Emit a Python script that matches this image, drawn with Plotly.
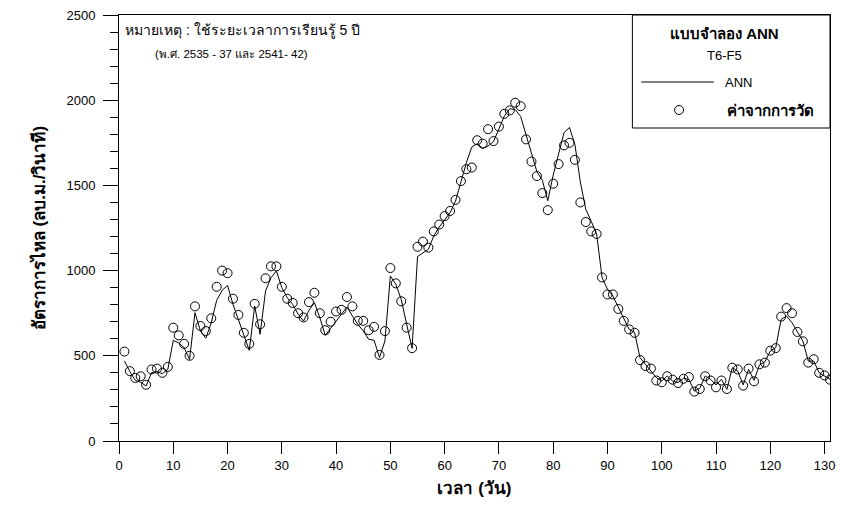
import plotly.graph_objects as go

# Daily discharge: measured values and ANN model output (T6-F5)
days = list(range(1, 132))

measured = [
    525, 410, 370, 380, 330, 420, 425, 400, 435, 665,
    620, 570, 500, 790, 675, 645, 720, 905, 1000, 985,
    835, 740, 635, 570, 805, 685, 955, 1025, 1025, 905,
    835, 810, 750, 725, 815, 870, 750, 650, 700, 760,
    770, 845, 790, 705, 705, 650, 670, 505, 645, 1015,
    925, 820, 665, 545, 1140, 1170, 1135, 1230, 1270, 1320,
    1350, 1415, 1525, 1595, 1605, 1765, 1745, 1830, 1760, 1845,
    1920, 1940, 1985, 1965, 1770, 1640, 1555, 1455, 1355, 1510,
    1625, 1735, 1750, 1650, 1400, 1285, 1230, 1215, 960, 860,
    860, 775, 705, 655, 635, 475, 440, 425, 355, 345,
    380, 360, 340, 365, 375, 290, 305, 380, 355, 315,
    355, 305, 430, 420, 325, 425, 350, 450, 460, 530,
    545, 730, 780, 750, 640, 585, 460, 480, 400, 385,
    360,
]

ann = [
    470, 407, 356, 344, 323, 401, 407, 395, 421, 591,
    575, 548, 479, 753, 646, 603, 694, 826, 884, 913,
    802, 714, 626, 532, 792, 626, 880, 958, 998, 900,
    841, 802, 744, 704, 767, 812, 724, 620, 661, 704,
    744, 786, 734, 685, 646, 597, 591, 489, 587, 968,
    920, 831, 685, 544, 1082, 1101, 1125, 1203, 1256, 1297,
    1340, 1408, 1516, 1633, 1725, 1745, 1718, 1731, 1757, 1829,
    1907, 1950, 1945, 1905, 1800, 1690, 1580, 1530, 1410, 1560,
    1690, 1810, 1840, 1740, 1520, 1360, 1290, 1215, 960, 890,
    850, 782, 714, 655, 636, 489, 450, 411, 372, 352,
    381, 352, 342, 368, 362, 293, 309, 381, 362, 329,
    362, 303, 430, 411, 329, 421, 356, 446, 465, 528,
    548, 714, 733, 694, 636, 587, 469, 469, 401, 381,
    362,
]

x_ticks = list(range(0, 131, 10))
y_ticks = [0, 500, 1000, 1500, 2000, 2500]

W, H = 841, 508
L, R, T, B = 119, 835, 15, 441
FONT = "Arial, Liberation Sans, Noto Sans, sans-serif"


def px(xp):
    return (xp - L) / (R - L)


def py(yp):
    return (B - yp) / (B - T)


fig = go.Figure()

fig.add_trace(go.Scatter(
    x=days, y=ann, mode="lines", name="ANN",
    line=dict(color="black", width=1),
    showlegend=False,
))
fig.add_trace(go.Scatter(
    x=days, y=measured, mode="markers", name="ค่าจากการวัด",
    marker=dict(symbol="circle-open", size=9, color="black",
                line=dict(color="black", width=1)),
    showlegend=False,
))

shapes = [
    # legend box
    dict(type="rect", xref="paper", yref="paper",
         x0=px(636), x1=1, y0=py(128), y1=1,
         line=dict(color="black", width=1), fillcolor="white", layer="above"),
    # legend line sample
    dict(type="line", xref="paper", yref="paper",
         x0=px(645), x1=px(718), y0=py(82), y1=py(82),
         line=dict(color="black", width=1), layer="above"),
    # legend marker sample
    dict(type="circle", xref="paper", yref="paper",
         xsizemode="pixel", ysizemode="pixel",
         xanchor=px(683), yanchor=py(110),
         x0=-4.5, x1=4.5, y0=-4.5, y1=4.5,
         line=dict(color="black", width=1), layer="above"),
]

annotations = [
    dict(text="<b>แบบจำลอง ANN</b>", x=px(729), y=py(33),
         font=dict(size=15)),
    dict(text="T6-F5", x=px(729), y=py(56), font=dict(size=13)),
    dict(text="ANN", x=px(727), y=py(82), xanchor="left", font=dict(size=13)),
    dict(text="<b>ค่าจากการวัด</b>", x=px(729), y=py(110), xanchor="left",
         font=dict(size=15)),
    dict(text="หมายเหตุ : ใช้ระยะเวลาการเรียนรู้ 5 ปี", x=px(123), y=py(31),
         xanchor="left", font=dict(size=14)),
    dict(text="(พ.ศ. 2535 - 37 และ 2541- 42)", x=px(153), y=py(54),
         xanchor="left", font=dict(size=11.5)),
]
for a in annotations:
    a.update(xref="paper", yref="paper", showarrow=False,
             yanchor="middle", font=dict(family=FONT, color="black",
                                         size=a["font"]["size"]))
    a.setdefault("xanchor", "center")

fig.update_layout(
    width=W, height=H,
    margin=dict(l=L, r=W - R, t=T, b=H - B),
    paper_bgcolor="white", plot_bgcolor="white",
    font=dict(family=FONT, color="black", size=13),
    shapes=shapes,
    annotations=annotations,
    xaxis=dict(
        range=[0, 131], tickvals=x_ticks, ticks="outside", ticklen=12,
        tickcolor="black", showline=True, linecolor="black", linewidth=1,
        mirror=True, showgrid=False, zeroline=False,
        tickfont=dict(size=13),
        title=dict(text="<b>เวลา (วัน)</b>", font=dict(size=17), standoff=10),
    ),
    yaxis=dict(
        range=[0, 2500], tickvals=y_ticks, ticks="outside", ticklen=15,
        tickcolor="black", showline=True, linecolor="black", linewidth=1,
        mirror=True, showgrid=False, zeroline=False,
        tickfont=dict(size=13), ticklabelstandoff=5,
        minor=dict(dtick=100, ticks="outside", ticklen=8, tickcolor="black"),
        title=dict(text="<b>อัตราการไหล (ลบ.ม./วินาที)</b>", font=dict(size=17),
                   standoff=16),
    ),
)

fig.write_html("out.html")
